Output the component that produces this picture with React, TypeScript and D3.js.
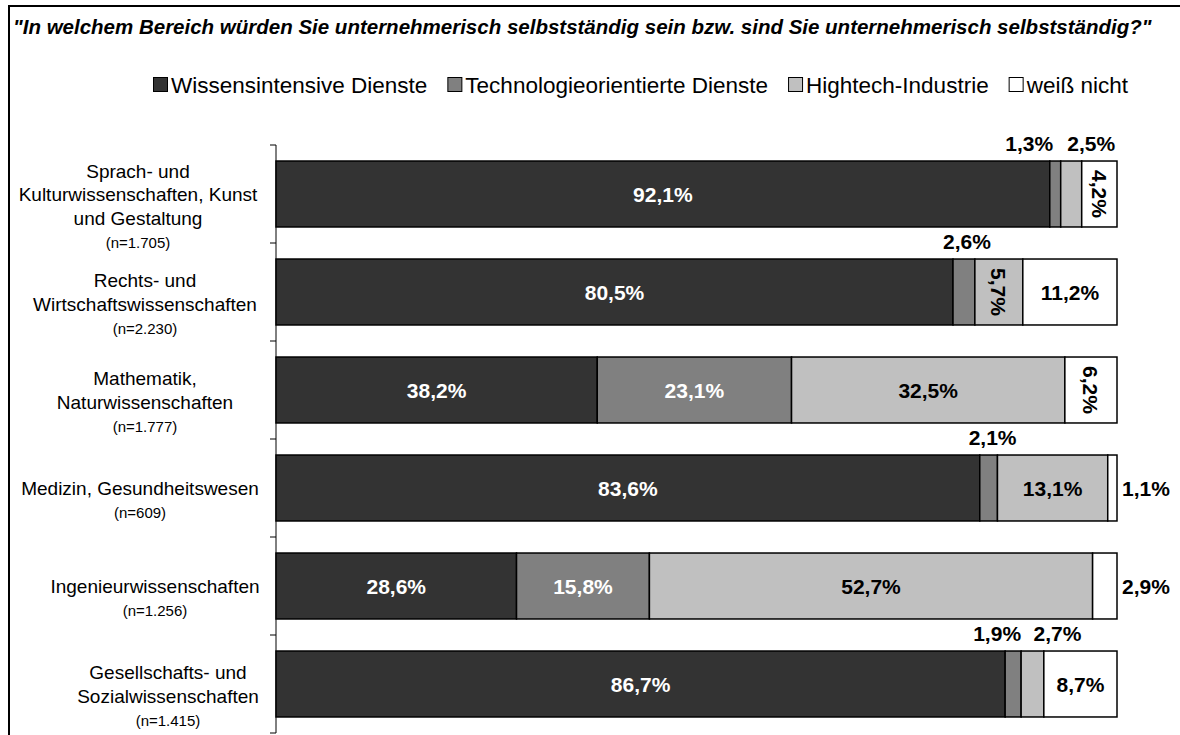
import React, { useEffect, useRef } from 'react';
import * as d3 from 'd3';

const categoryLines = [
  ['Sprach- und', 'Kulturwissenschaften, Kunst', 'und Gestaltung'],
  ['Rechts- und', 'Wirtschaftswissenschaften'],
  ['Mathematik,', 'Naturwissenschaften'],
  ['Medizin, Gesundheitswesen'],
  ['Ingenieurwissenschaften'],
  ['Gesellschafts- und', 'Sozialwissenschaften'],
];
const sampleSizes = ['(n=1.705)', '(n=2.230)', '(n=1.777)', '(n=609)', '(n=1.256)', '(n=1.415)'];

const seriesNames = ['Wissensintensive Dienste', 'Technologieorientierte Dienste', 'Hightech-Industrie', 'weiß nicht'];
const wissensintensiv = [92.1, 80.5, 38.2, 83.6, 28.6, 86.7];
const technologie = [1.3, 2.6, 23.1, 2.1, 15.8, 1.9];
const hightech = [2.5, 5.7, 32.5, 13.1, 52.7, 2.7];
const weissNicht = [4.2, 11.2, 6.2, 1.1, 2.9, 8.7];

// where each value label goes (in bar, above it, rotated, right of bar)
const labelModes = [
  ['in', 'above', 'above', 'rot'],
  ['in', 'above', 'rot', 'in'],
  ['in', 'in', 'in', 'rot'],
  ['in', 'above', 'in', 'right'],
  ['in', 'in', 'in', 'right'],
  ['in', 'above', 'above', 'in'],
];
const aboveShift = [
  [0, -26, 20, 0],
  [0, 3, 0, 0],
  [0, 0, 0, 0],
  [0, 4, 0, 0],
  [0, 0, 0, 0],
  [0, -16, 25, 0],
];
// horizontal centre of each category label block
const labelCenter = [138, 145, 145, 140, 155, 168];

const colors = ['#333333', '#808080', '#c0c0c0', '#ffffff'];
const textColors = ['#ffffff', '#ffffff', '#000000', '#000000'];
const FONT = "Arial, 'Liberation Sans', sans-serif";

const fmt = (v: number) => v.toFixed(1).replace('.', ',') + '%';

const App: React.FC = () => {
  const ref = useRef<SVGSVGElement>(null);

  useEffect(() => {
    const svg = d3.select(ref.current);
    svg.selectAll('*').remove();

    const rows = categoryLines.map((_, i) => ({
      idx: i,
      s0: wissensintensiv[i],
      s1: technologie[i],
      s2: hightech[i],
      s3: weissNicht[i],
    }));
    const keys = ['s0', 's1', 's2', 's3'];
    const stacked = d3.stack<any>().keys(keys).offset(d3.stackOffsetExpand)(rows);

    const x = d3.scaleLinear().domain([0, 1]).range([276, 1117]);
    const y = d3
      .scaleBand<number>()
      .domain(rows.map((r) => r.idx))
      .range([145, 733])
      .paddingInner(0.327)
      .paddingOuter(0.1635);

    // frame
    svg
      .append('rect')
      .attr('x', 9)
      .attr('y', 6)
      .attr('width', 1200)
      .attr('height', 800)
      .attr('fill', 'none')
      .attr('stroke', '#000')
      .attr('stroke-width', 2);

    // title
    svg
      .append('text')
      .attr('x', 13)
      .attr('y', 34)
      .attr('font-family', FONT)
      .attr('font-size', 20.5)
      .attr('font-weight', 'bold')
      .attr('font-style', 'italic')
      .text('"In welchem Bereich würden Sie unternehmerisch selbstständig sein bzw. sind Sie unternehmerisch selbstständig?"');

    // legend
    const legend = svg.append('g').attr('transform', 'translate(153,93)');
    let lx = 0;
    seriesNames.forEach((name, i) => {
      const g = legend.append('g').attr('transform', `translate(${lx},0)`);
      g.append('rect')
        .attr('x', 0.5)
        .attr('y', -15.5)
        .attr('width', 14)
        .attr('height', 14)
        .attr('fill', colors[i])
        .attr('stroke', '#000')
        .attr('stroke-width', 1);
      const t = g
        .append('text')
        .attr('x', 18)
        .attr('y', 0)
        .attr('font-family', FONT)
        .attr('font-size', 22.5)
        .text(name);
      const w = (t.node() as SVGTextElement).getComputedTextLength();
      lx += 18 + w + 20;
    });

    // axis
    const ax = svg.append('g');
    ax.append('line')
      .attr('x1', 276)
      .attr('x2', 276)
      .attr('y1', 145)
      .attr('y2', 733)
      .attr('stroke', '#000');
    const step = y.step();
    d3.range(7).forEach((k) => {
      const ty = 145 + k * step;
      ax.append('line')
        .attr('x1', 270)
        .attr('x2', 276)
        .attr('y1', ty)
        .attr('y2', ty)
        .attr('stroke', '#000');
    });

    // category labels
    rows.forEach((r, i) => {
      const cy = (y(r.idx) as number) + y.bandwidth() / 2;
      const lines = categoryLines[i];
      const top = cy - ((lines.length - 1) * 23.5) / 2;
      const g = svg.append('g').attr('font-family', FONT).attr('text-anchor', 'middle');
      lines.forEach((ln, j) => {
        g.append('text')
          .attr('x', labelCenter[i])
          .attr('y', top + j * 23.5 + 7)
          .attr('font-size', 19)
          .text(ln);
      });
      g.append('text')
        .attr('x', labelCenter[i])
        .attr('y', top + (lines.length - 1) * 23.5 + 25 + 5)
        .attr('font-size', 15)
        .text(sampleSizes[i]);
    });

    // bars
    const values = [wissensintensiv, technologie, hightech, weissNicht];
    stacked.forEach((layer, si) => {
      svg
        .append('g')
        .selectAll('rect')
        .data(layer)
        .enter()
        .append('rect')
        .attr('x', (d) => x(d[0]))
        .attr('y', (d: any) => y(d.data.idx) as number)
        .attr('width', (d) => x(d[1]) - x(d[0]))
        .attr('height', y.bandwidth())
        .attr('fill', colors[si])
        .attr('stroke', '#000')
        .attr('stroke-width', 1.5);
    });

    // value labels
    stacked.forEach((layer, si) => {
      layer.forEach((d: any, i) => {
        const mode = labelModes[i][si];
        const v = values[si][i];
        const by = y(d.data.idx) as number;
        const cx = (x(d[0]) + x(d[1])) / 2;
        const cy = by + y.bandwidth() / 2;
        const t = svg
          .append('text')
          .attr('font-family', FONT)
          .attr('font-size', 21)
          .attr('font-weight', 'bold')
          .text(fmt(v));
        if (mode === 'in') {
          t.attr('x', cx)
            .attr('y', cy + 7.5)
            .attr('text-anchor', 'middle')
            .attr('fill', textColors[si]);
        } else if (mode === 'above') {
          t.attr('x', cx + aboveShift[i][si])
            .attr('y', by - 10)
            .attr('text-anchor', 'middle')
            .attr('fill', '#000');
        } else if (mode === 'rot') {
          t.attr('text-anchor', 'middle')
            .attr('fill', '#000')
            .attr('transform', `translate(${cx - 7.5},${cy}) rotate(90)`);
        } else {
          t.attr('x', x(d[1]) + 5)
            .attr('y', cy + 7.5)
            .attr('text-anchor', 'start')
            .attr('fill', '#000');
        }
      });
    });
  }, []);

  return (
    <svg
      ref={ref}
      width={1180}
      height={735}
      style={{ position: 'absolute', left: 0, top: 0, background: '#fff' }}
    />
  );
};

export default App;
